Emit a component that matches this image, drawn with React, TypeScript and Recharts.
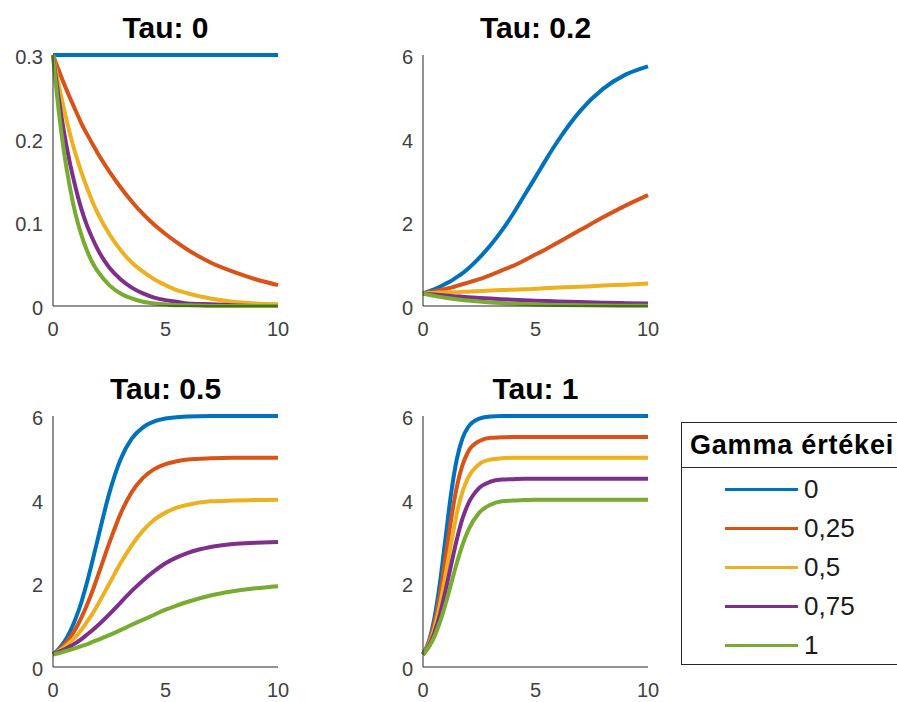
import React from 'react';
import { LineChart, Line, XAxis, YAxis } from 'recharts';

// sample positions along the horizontal axis (denser where tau 1 rises fast)
const xValues = [0, 0.25, 0.5, 0.75, 1, 1.25, 1.5, 1.75, 2, 2.5, 3, 3.5, 4, 4.5, 5, 5.5, 6, 7, 8, 9, 10];

const gammaLabels = ['0', '0,25', '0,5', '0,75', '1'];
const colors = ['#0072BD', '#D95319', '#EDB120', '#7E2F8E', '#77AC30'];

// Tau: 0
const tau0Gamma0 = [0.3, 0.3, 0.3, 0.3, 0.3, 0.3, 0.3, 0.3, 0.3, 0.3, 0.3, 0.3, 0.3, 0.3, 0.3, 0.3, 0.3, 0.3, 0.3, 0.3, 0.3];
const tau0Gamma025 = [0.3, 0.282, 0.265, 0.249, 0.234, 0.219, 0.206, 0.194, 0.182, 0.161, 0.142, 0.125, 0.11, 0.097, 0.086, 0.076, 0.067, 0.052, 0.041, 0.032, 0.025];
const tau0Gamma05 = [0.3, 0.265, 0.234, 0.206, 0.182, 0.161, 0.142, 0.125, 0.11, 0.086, 0.067, 0.052, 0.041, 0.032, 0.025, 0.019, 0.015, 0.009, 0.005, 0.003, 0.002];
const tau0Gamma075 = [0.3, 0.249, 0.206, 0.171, 0.142, 0.117, 0.097, 0.081, 0.067, 0.046, 0.032, 0.022, 0.015, 0.01, 0.007, 0.005, 0.003, 0.002, 0.001, 0, 0];
const tau0Gamma1 = [0.3, 0.234, 0.182, 0.142, 0.11, 0.086, 0.067, 0.052, 0.041, 0.025, 0.015, 0.009, 0.005, 0.003, 0.002, 0.001, 0.001, 0, 0, 0, 0];

// Tau: 0.2
const tau02Gamma0 = [0.3, 0.35, 0.4, 0.46, 0.53, 0.6, 0.69, 0.78, 0.89, 1.15, 1.45, 1.8, 2.2, 2.64, 3.08, 3.53, 3.95, 4.67, 5.19, 5.53, 5.73];
const tau02Gamma025 = [0.3, 0.33, 0.35, 0.38, 0.41, 0.44, 0.48, 0.52, 0.56, 0.64, 0.74, 0.85, 0.96, 1.09, 1.23, 1.37, 1.52, 1.82, 2.12, 2.4, 2.65];
const tau02Gamma05 = [0.3, 0.31, 0.31, 0.32, 0.32, 0.33, 0.33, 0.34, 0.34, 0.36, 0.37, 0.38, 0.39, 0.4, 0.41, 0.43, 0.44, 0.46, 0.49, 0.51, 0.54];
const tau02Gamma075 = [0.3, 0.287, 0.274, 0.262, 0.251, 0.241, 0.23, 0.221, 0.211, 0.194, 0.178, 0.164, 0.151, 0.139, 0.128, 0.118, 0.109, 0.093, 0.079, 0.068, 0.058];
const tau02Gamma1 = [0.3, 0.27, 0.242, 0.218, 0.196, 0.177, 0.159, 0.144, 0.129, 0.105, 0.086, 0.07, 0.057, 0.047, 0.038, 0.031, 0.025, 0.017, 0.011, 0.008, 0.005];

// Tau: 0.5
const tau05Gamma0 = [0.3, 0.43, 0.6, 0.84, 1.15, 1.53, 2.0, 2.53, 3.08, 4.15, 4.96, 5.46, 5.73, 5.87, 5.94, 5.97, 5.99, 6.0, 6.0, 6.0, 6.0];
const tau05Gamma025 = [0.3, 0.4, 0.53, 0.7, 0.91, 1.17, 1.47, 1.81, 2.19, 2.96, 3.66, 4.18, 4.52, 4.73, 4.85, 4.92, 4.96, 4.99, 5.0, 5.0, 5.0];
const tau05Gamma05 = [0.3, 0.38, 0.47, 0.59, 0.72, 0.88, 1.07, 1.27, 1.5, 1.99, 2.48, 2.91, 3.26, 3.52, 3.69, 3.81, 3.88, 3.96, 3.98, 3.99, 4.0];
const tau05Gamma075 = [0.3, 0.36, 0.42, 0.49, 0.57, 0.66, 0.77, 0.88, 1.0, 1.26, 1.54, 1.82, 2.07, 2.29, 2.48, 2.62, 2.73, 2.87, 2.94, 2.97, 2.99];
const tau05Gamma1 = [0.3, 0.33, 0.37, 0.41, 0.45, 0.5, 0.54, 0.6, 0.65, 0.76, 0.88, 1.01, 1.13, 1.25, 1.37, 1.47, 1.56, 1.71, 1.81, 1.88, 1.93];

// Tau: 1
const tau1Gamma0 = [0.3, 0.6, 1.15, 2.0, 3.08, 4.15, 4.96, 5.46, 5.73, 5.94, 5.99, 6.0, 6.0, 6.0, 6.0, 6.0, 6.0, 6.0, 6.0, 6.0, 6.0];
const tau1Gamma025 = [0.3, 0.57, 1.02, 1.72, 2.61, 3.53, 4.3, 4.82, 5.14, 5.4, 5.48, 5.49, 5.5, 5.5, 5.5, 5.5, 5.5, 5.5, 5.5, 5.5, 5.5];
const tau1Gamma05 = [0.3, 0.53, 0.91, 1.47, 2.19, 2.96, 3.66, 4.18, 4.52, 4.85, 4.96, 4.99, 5.0, 5.0, 5.0, 5.0, 5.0, 5.0, 5.0, 5.0, 5.0];
const tau1Gamma075 = [0.3, 0.5, 0.81, 1.25, 1.82, 2.44, 3.04, 3.54, 3.89, 4.28, 4.43, 4.48, 4.49, 4.5, 4.5, 4.5, 4.5, 4.5, 4.5, 4.5, 4.5];
const tau1Gamma1 = [0.3, 0.47, 0.72, 1.07, 1.5, 1.99, 2.48, 2.91, 3.26, 3.69, 3.88, 3.96, 3.98, 3.99, 4.0, 4.0, 4.0, 4.0, 4.0, 4.0, 4.0];

const xTicks = [0, 5, 10];
const smallYTicks = [0, 0.1, 0.2, 0.3];
const bigYTicks = [0, 2, 4, 6];

const FONT = '"Liberation Sans", Arial, Helvetica, sans-serif';

function buildRows(series: number[][]) {
  return xValues.map((x, i) => {
    const row: any = { x };
    series.forEach((s, k) => {
      row['g' + k] = s[i];
    });
    return row;
  });
}

const panels = [
  { title: 'Tau: 0', series: [tau0Gamma0, tau0Gamma025, tau0Gamma05, tau0Gamma075, tau0Gamma1], yMax: 0.3, yTicks: smallYTicks, left: 0, top: 0 },
  { title: 'Tau: 0.2', series: [tau02Gamma0, tau02Gamma025, tau02Gamma05, tau02Gamma075, tau02Gamma1], yMax: 6, yTicks: bigYTicks, left: 370, top: 0 },
  { title: 'Tau: 0.5', series: [tau05Gamma0, tau05Gamma025, tau05Gamma05, tau05Gamma075, tau05Gamma1], yMax: 6, yTicks: bigYTicks, left: 0, top: 361 },
  { title: 'Tau: 1', series: [tau1Gamma0, tau1Gamma025, tau1Gamma05, tau1Gamma075, tau1Gamma1], yMax: 6, yTicks: bigYTicks, left: 370, top: 361 },
];

function Panel(props: any) {
  const { title, series, yMax, yTicks, left, top } = props;
  const rows = buildRows(series);
  return (
    <div style={{ position: 'absolute', left, top, width: 300, height: 340 }}>
      <div
        style={{
          position: 'absolute',
          left: 53,
          top: 13,
          width: 225,
          textAlign: 'center',
          fontWeight: 'bold',
          fontSize: 30,
          lineHeight: '30px',
          color: '#000',
          whiteSpace: 'nowrap',
        }}
      >
        {title}
      </div>
      <LineChart width={300} height={340} data={rows} margin={{ top: 55, right: 22, bottom: 0, left: 0 }}>
        <XAxis
          dataKey="x"
          type="number"
          domain={[0, 10]}
          ticks={xTicks}
          height={34}
          tickLine={false}
          tickSize={0}
          tickMargin={16}
          stroke="#262626"
          tick={{ fill: '#404040', fontSize: 20 }}
        />
        <YAxis
          type="number"
          domain={[0, yMax]}
          ticks={yTicks}
          width={53}
          tickLine={false}
          tickSize={0}
          tickMargin={10}
          stroke="#262626"
          tick={{ fill: '#404040', fontSize: 20, dy: 2 }}
        />
        {series.map((_: number[], i: number) => (
          <Line
            key={i}
            dataKey={'g' + i}
            type="monotone"
            stroke={colors[i]}
            strokeWidth={4}
            dot={false}
            isAnimationActive={false}
          />
        ))}
      </LineChart>
    </div>
  );
}

function GammaLegend() {
  return (
    <div
      style={{
        position: 'absolute',
        left: 681,
        top: 422,
        width: 280,
        height: 243,
        border: '1px solid #262626',
        background: '#fff',
        boxSizing: 'border-box',
      }}
    >
      <div
        style={{
          height: 44,
          borderBottom: '1px solid #262626',
          paddingLeft: 8,
          fontWeight: 'bold',
          fontSize: 27,
          lineHeight: '44px',
          letterSpacing: 0.8,
          color: '#000',
          whiteSpace: 'nowrap',
        }}
      >
        Gamma értékei
      </div>
      {gammaLabels.map((label, i) => (
        <div key={label}>
          <div
            style={{
              position: 'absolute',
              left: 43,
              top: 66 + i * 39 - 1.5,
              width: 73,
              height: 3,
              background: colors[i],
            }}
          />
          <div
            style={{
              position: 'absolute',
              left: 122,
              top: 66 + i * 39 - 13,
              fontSize: 26,
              lineHeight: '26px',
              color: '#1a1a1a',
              whiteSpace: 'nowrap',
            }}
          >
            {label}
          </div>
        </div>
      ))}
    </div>
  );
}

export default function App() {
  return (
    <div
      style={{
        position: 'absolute',
        left: 0,
        top: 0,
        width: 897,
        height: 702,
        overflow: 'hidden',
        background: '#fff',
        fontFamily: FONT,
      }}
    >
      {panels.map((p) => (
        <Panel key={p.title} {...p} />
      ))}
      <GammaLegend />
    </div>
  );
}
